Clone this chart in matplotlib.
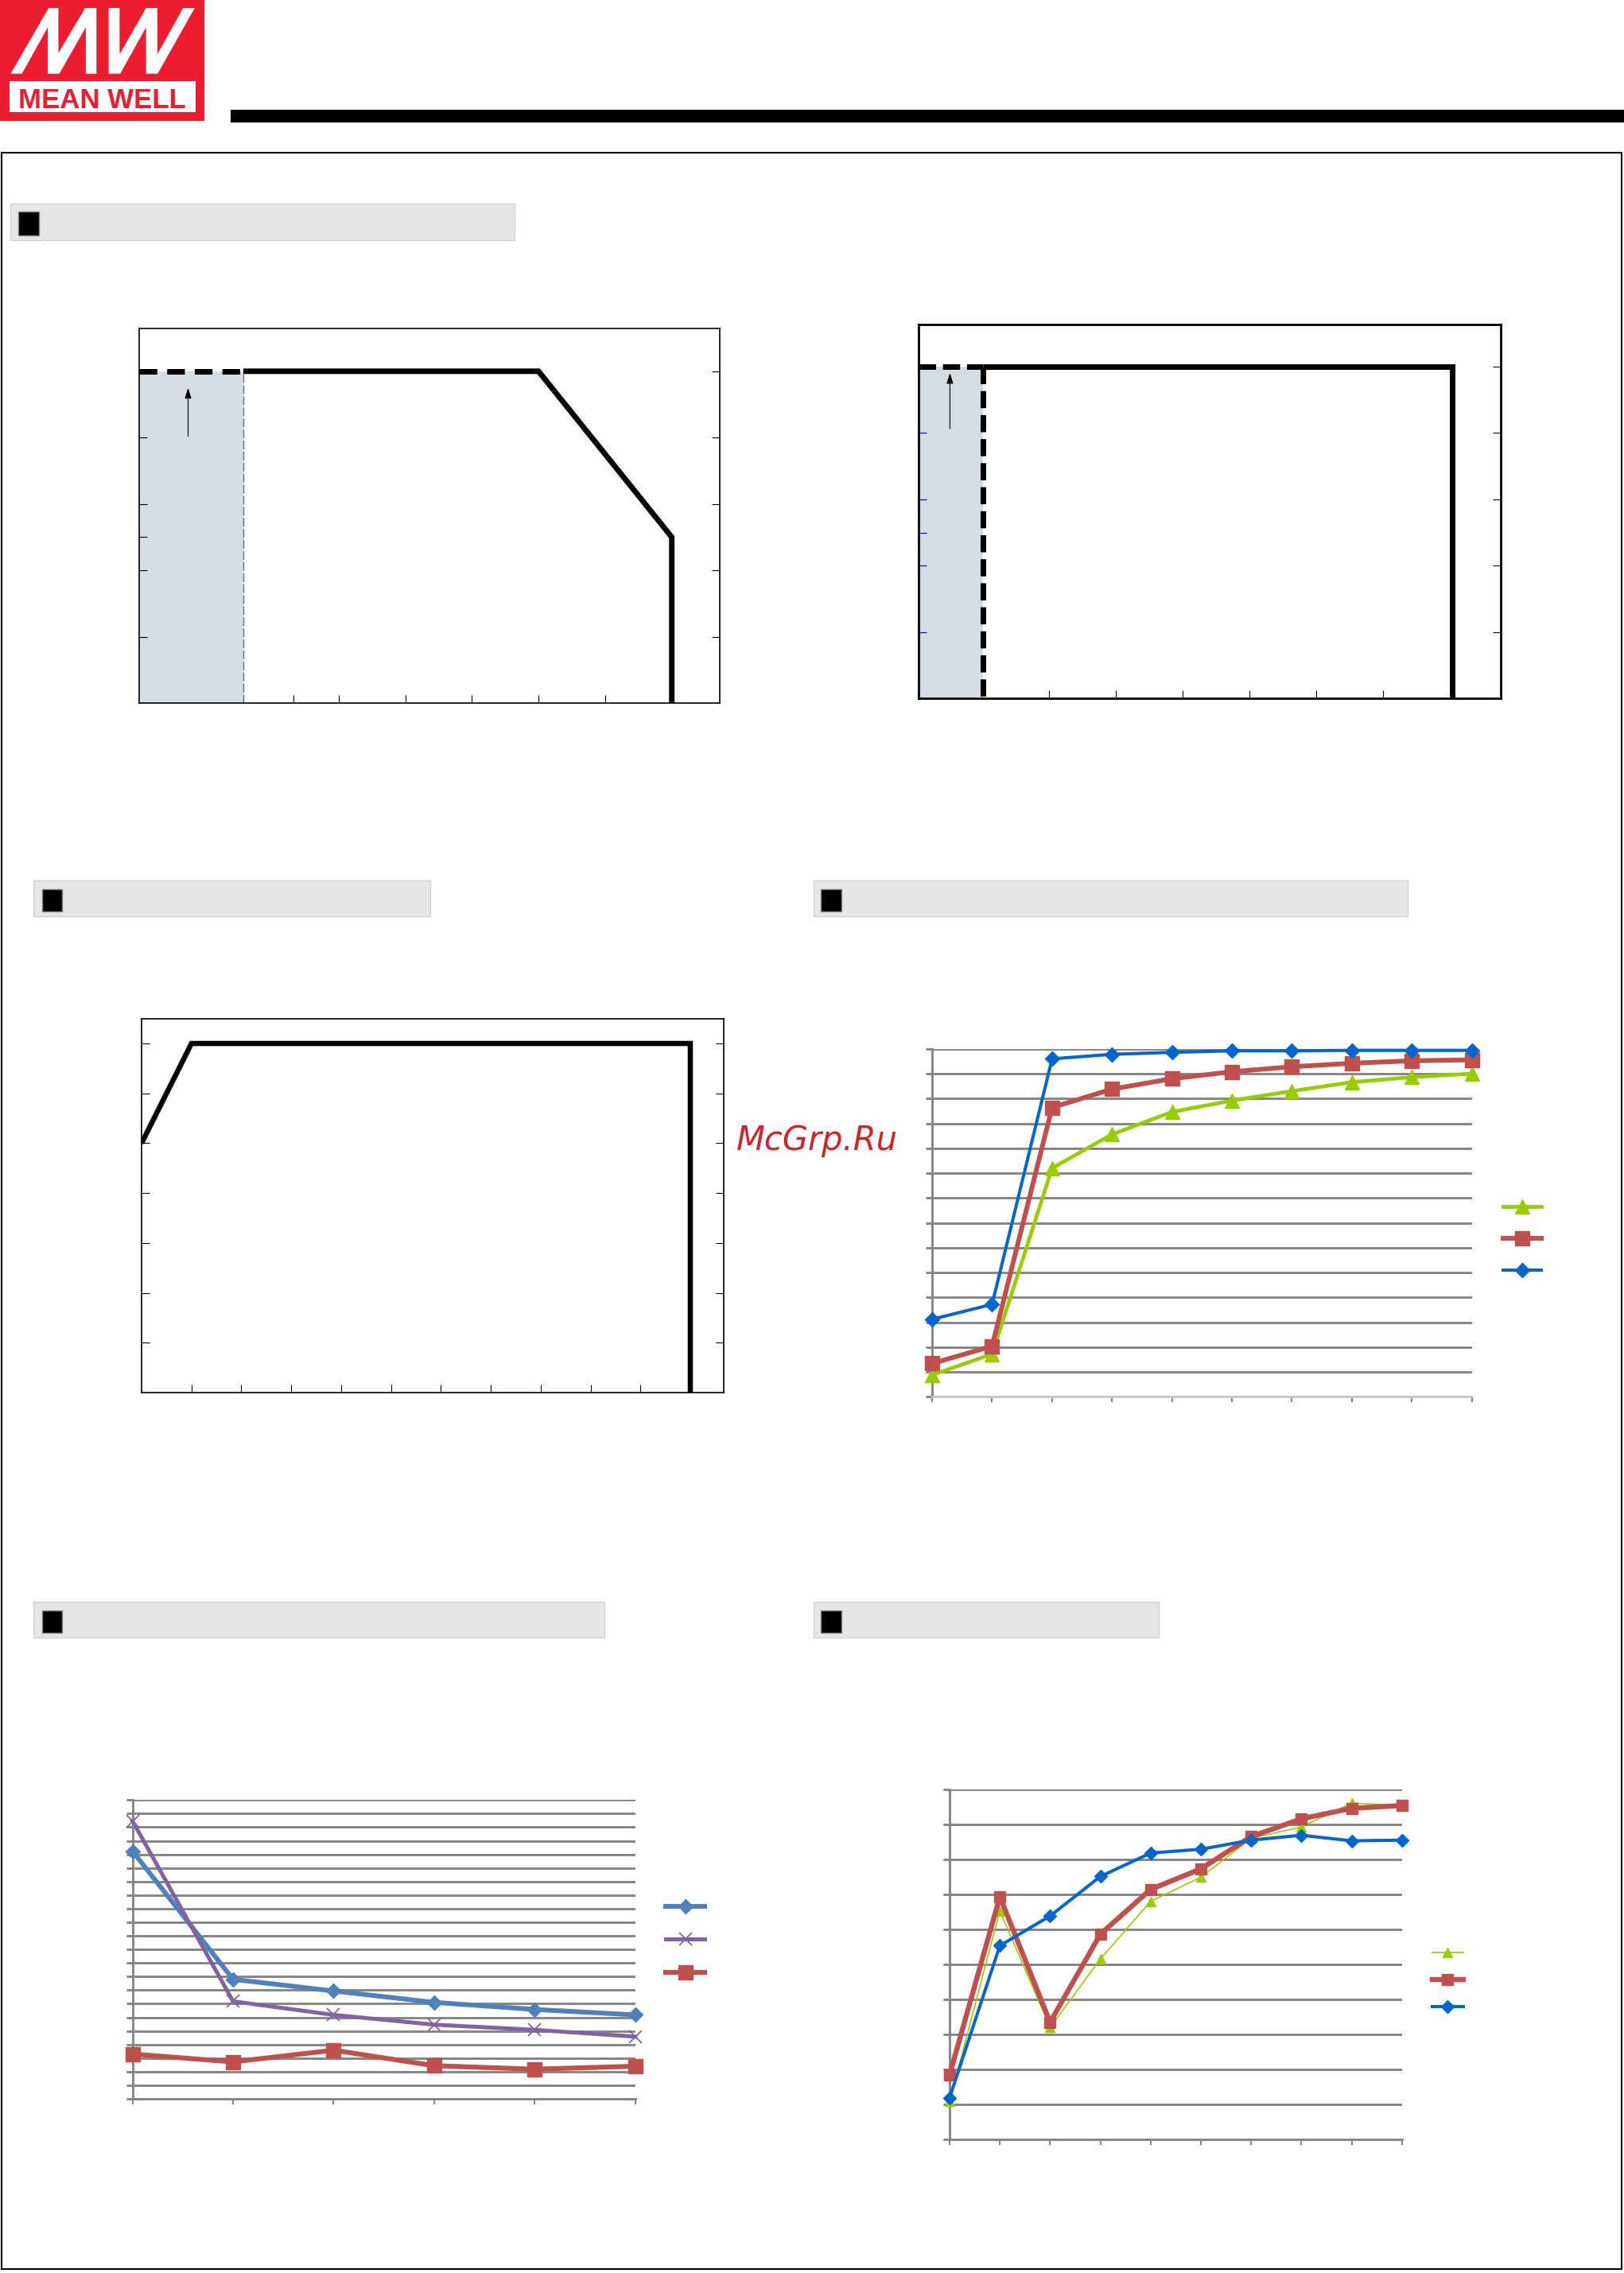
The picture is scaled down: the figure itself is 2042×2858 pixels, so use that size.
import matplotlib
matplotlib.use('Agg')
import matplotlib.pyplot as plt
from matplotlib.patches import Rectangle, Polygon

W, H = 2042, 2858

# ---- dados dos graficos ----
# grafico 1: carga x temperatura ambiente
c1_temp = [-30, -14.3, 30, 50, 50]
c1_load = [100, 100, 100, 50, 0]
c1_xticks = [-14.3, -6.8, 0, 10, 20, 30, 40]
c1_yticks_left = [20, 40, 50, 60, 80]
c1_yticks_right = [20, 40, 60, 80, 100]
c1_arrow_x = -22.6
c1_arrow_y = (80.4, 95.0)

# grafico 2: carga x tensao de entrada
c2_vin = [80.4, 90, 160.4, 160.4]
c2_load = [100, 100, 100, 0]
c2_xticks = [100, 110, 120, 130, 140, 150]
c2_yticks_left = [20, 40, 50, 60, 80]
c2_yticks_right = [20, 40, 60, 80, 100]
c2_arrow_x = 85.1
c2_arrow_y = (81.3, 98.1)

# grafico 3
c3_vin = [80, 90, 190, 190]
c3_load = [80, 100, 100, 30]
c3_xticks = [90, 100, 110, 120, 130, 140, 150, 160, 170, 180]
c3_yticks = [40, 50, 60, 70, 80, 90, 100]

# grafico 4: eficiencia x carga
c4_x = list(range(10))
c4_green = [34.4, 38.6, 76.0, 82.8, 87.3, 89.6, 91.5, 93.3, 94.3, 95.0]
c4_red = [36.7, 40.2, 88.2, 91.9, 94.0, 95.4, 96.4, 97.1, 97.6, 97.8]
c4_blue = [45.6, 48.6, 98.0, 98.9, 99.3, 99.6, 99.6, 99.7, 99.7, 99.7]

# grafico 5
c5_x = list(range(6))
c5_blue = [91.2, 44.0, 39.7, 35.5, 32.9, 30.9]
c5_purple = [102.3, 35.9, 30.9, 27.3, 25.4, 22.9]
c5_red = [16.5, 13.6, 17.9, 12.2, 10.9, 12.0]

# grafico 6
c6_x = list(range(10))
c6_green = [10.7, 65.3, 31.9, 51.5, 68.0, 74.9, 86.0, 89.3, 96.1, 95.4]
c6_red = [18.3, 69.3, 33.4, 58.6, 71.4, 77.3, 86.5, 91.6, 94.6, 95.4]
c6_blue = [11.8, 55.3, 63.8, 75.1, 81.8, 82.9, 85.5, 86.9, 85.3, 85.5]

fig = plt.figure(figsize=(W / 100, H / 100), dpi=100)


def place(x0, y0, x1, y1):
    # posiciona um eixo a partir das coordenadas em pixels da pagina
    return fig.add_axes([x0 / W, 1 - y1 / H, (x1 - x0) / W, (y1 - y0) / H])


# ---- fundo da pagina: logo, barra, moldura e cabecalhos ----
bg = fig.add_axes([0, 0, 1, 1])
bg.set_xlim(0, W)
bg.set_ylim(H, 0)
bg.axis('off')

bg.add_patch(Rectangle((0, 0), 257, 152, color='#ed1c2e', lw=0))
bg.add_patch(Rectangle((12, 102), 234, 39, color='white', lw=0))
sx, sy = 600 / 1568, 1 / 3
m_pts = [(35, 278), (72, 278), (157, 103), (157, 278), (195, 278), (282, 103), (282, 278),
         (317, 278), (317, 30), (280, 30), (192, 200), (192, 30), (160, 30)]
w_pts = [(357, 30), (393, 30), (393, 205), (480, 30), (517, 30), (517, 205), (602, 30),
         (640, 30), (518, 278), (480, 278), (480, 103), (395, 278), (357, 278)]
for pts in (m_pts, w_pts):
    bg.add_patch(Polygon([(x * sx, y * sy) for x, y in pts], closed=True, color='white', lw=0))
bg.text(128, 136, 'MEAN WELL', color='#ed1c2e', fontsize=25, fontweight='bold',
        family='Liberation Sans', ha='center', va='baseline')

bg.add_patch(Rectangle((290, 138), W - 290, 16, color='black', lw=0))
bg.add_patch(Rectangle((2, 192), 2037, 2661, fill=False, ec='black', lw=1.5))

headers = [
    ((13.4, 256.3, 647, 301.7), (23.3, 266.3, 48.6, 295.7)),
    ((42.4, 1107, 540.6, 1152.3), (52.7, 1117.5, 77.6, 1145.6)),
    ((1022.6, 1107, 1769.5, 1152.3), (1031.9, 1117.5, 1057.8, 1145.6)),
    ((42.4, 2014, 760, 2059.4), (52.7, 2024.5, 77.6, 2052.6)),
    ((1022.6, 2014, 1457.2, 2059.4), (1031.9, 2024.5, 1057.8, 2052.6)),
]
for (x0, y0, x1, y1), (q0, r0, q1, r1) in headers:
    bg.add_patch(Rectangle((x0, y0), x1 - x0, y1 - y0, fc='#e6e6e6', ec='#d2d2d2', lw=1))
    bg.add_patch(Rectangle((q0, r0), q1 - q0, r1 - r0, fc='black', ec='#808080', lw=1))


def box_axes(ax, lw):
    for s in ax.spines.values():
        s.set_linewidth(lw)
        s.set_color('black')
    ax.set_xticklabels([])
    ax.set_yticklabels([])


# ---- grafico 1 ----
ax1 = place(174.5, 413.4, 905, 884)
ax1.set_xlim(-30, 57.2)
ax1.set_ylim(0, 112.8)
ax1.fill_between(c1_temp[:2], 0, c1_load[0], color='#d4dce4', lw=0)
ax1.plot([c1_temp[1], c1_temp[1]], [0, c1_load[1]], color='#707070', lw=1, dashes=(8, 2))
ax1.plot(c1_temp[:2], c1_load[:2], color='black', lw=5, dashes=(3.2, 1.8), dash_capstyle='butt')
ax1.plot(c1_temp[1:], c1_load[1:], color='black', lw=5, solid_joinstyle='miter',
         solid_capstyle='butt')
ax1.annotate('', xy=(c1_arrow_x, c1_arrow_y[1]), xytext=(c1_arrow_x, c1_arrow_y[0]),
             arrowprops=dict(arrowstyle='-|>,head_length=0.8,head_width=0.25', color='black',
                             lw=0.8, mutation_scale=10, shrinkA=0, shrinkB=0))
ax1.set_xticks(c1_xticks)
ax1.set_yticks(c1_yticks_left)
ax1.tick_params(direction='in', length=7, width=0.8)
box_axes(ax1, 1.2)
t1 = ax1.twinx()
t1.set_ylim(ax1.get_ylim())
t1.set_yticks(c1_yticks_right)
t1.tick_params(direction='in', length=7, width=0.8, labelright=False)
for s in t1.spines.values():
    s.set_visible(False)

# ---- grafico 2 ----
ax2 = place(1155, 407.6, 1886.7, 878.4)
ax2.set_xlim(80.4, 167.6)
ax2.set_ylim(0, 112.8)
ax2.fill_between(c2_vin[:2], 0, c2_load[0], color='#d4dce4', lw=0)
ax2.plot(c2_vin[:2], c2_load[:2], color='black', lw=5, dashes=(3.1, 1.25), dash_capstyle='butt')
ax2.plot([c2_vin[1], c2_vin[1]], [c2_load[1], 0], color='black', lw=5, dashes=(3.1, 1.25),
         dash_capstyle='butt')
ax2.plot(c2_vin[1:], c2_load[1:], color='black', lw=5, solid_joinstyle='miter',
         solid_capstyle='butt')
ax2.annotate('', xy=(c2_arrow_x, c2_arrow_y[1]), xytext=(c2_arrow_x, c2_arrow_y[0]),
             arrowprops=dict(arrowstyle='-|>,head_length=0.8,head_width=0.25', color='black',
                             lw=0.8, mutation_scale=10, shrinkA=0, shrinkB=0))
ax2.set_xticks(c2_xticks)
ax2.set_yticks(c2_yticks_left)
ax2.tick_params(axis='x', direction='in', length=7, width=0.8)
ax2.tick_params(axis='y', direction='in', length=7, width=0.8, color='#0000cc')
box_axes(ax2, 2)
t2 = ax2.twinx()
t2.set_ylim(ax2.get_ylim())
t2.set_yticks(c2_yticks_right)
t2.tick_params(direction='in', length=7, width=0.8, labelright=False)
for s in t2.spines.values():
    s.set_visible(False)

# ---- grafico 3 ----
ax3 = place(178, 1281.3, 910, 1751)
ax3.set_xlim(80, 196.7)
ax3.set_ylim(30, 104.9)
ax3.plot(c3_vin, c3_load, color='black', lw=4.7, solid_joinstyle='miter', solid_capstyle='butt')
ax3.set_xticks(c3_xticks)
ax3.set_yticks(c3_yticks)
ax3.tick_params(direction='in', length=7, width=0.8, left=True, right=True)
box_axes(ax3, 1.2)


# ---- graficos de linhas estilo planilha ----
def sheet_axes(ax, xmax, ymin, ymax, step, bottom_color):
    ax.set_xlim(0, xmax)
    ax.set_ylim(ymin, ymax)
    ax.set_yticks(range(ymin, ymax + 1, step))
    ax.set_xticks(range(xmax + 1))
    ax.grid(axis='y', color='#868686', lw=2.1)
    ax.set_axisbelow(True)
    ax.spines['top'].set_visible(False)
    ax.spines['right'].set_visible(False)
    ax.spines['left'].set_color('#868686')
    ax.spines['left'].set_linewidth(2.1)
    ax.spines['bottom'].set_color(bottom_color)
    ax.spines['bottom'].set_linewidth(2.1)
    ax.tick_params(axis='y', direction='out', length=5.5, width=2.1, color='#868686',
                   labelleft=False)
    ax.tick_params(axis='x', direction='out', length=5, width=1.5, color='#868686',
                   labelbottom=False)


def sheet_legend(ax, handles, x, ytop, pitch, hlen):
    fs = 10
    ax.legend(handles, [''] * len(handles), loc='upper left',
              bbox_to_anchor=(x / W, 1 - ytop / H), bbox_transform=fig.transFigure,
              frameon=False, fontsize=fs, handlelength=hlen / (fs * 100 / 72),
              handletextpad=0, borderpad=0, borderaxespad=0,
              labelspacing=(pitch - 14) / (fs * 100 / 72))


ax4 = place(1172.1, 1318.8, 1850.6, 1756.3)
sheet_axes(ax4, 9, 30, 100, 5, '#c8c8c8')
g4, = ax4.plot(c4_x, c4_green, color='#99cc00', lw=3.4, marker='^', ms=12.5, clip_on=False, zorder=3)
r4, = ax4.plot(c4_x, c4_red, color='#c0504d', lw=4.3, marker='s', ms=12.5, clip_on=False, zorder=3)
b4, = ax4.plot(c4_x, c4_blue, color='#0066cc', lw=2.9, marker='D', ms=9.5, clip_on=False, zorder=3)
sheet_legend(ax4, [g4, r4, b4], 1890, 1511, 40.1, 48)

ax5 = place(166.6, 2263.3, 798.7, 2639)
sheet_axes(ax5, 5, 0, 110, 5, '#868686')
b5, = ax5.plot(c5_x, c5_blue, color='#4f81bd', lw=4.3, marker='D', ms=9.5, clip_on=False, zorder=3)
p5, = ax5.plot(c5_x, c5_purple, color='#8064a2', lw=3.6, marker='x', ms=12, mew=1.3,
               clip_on=False, zorder=3)
r5, = ax5.plot(c5_x, c5_red, color='#c0504d', lw=4.4, marker='s', ms=13, clip_on=False, zorder=3)
sheet_legend(ax5, [b5, p5, r5], 837, 2391, 41.3, 49)

ax6 = place(1194, 2250, 1762.8, 2689.5)
sheet_axes(ax6, 9, 0, 100, 10, '#868686')
g6, = ax6.plot(c6_x, c6_green, color='#99cc00', lw=1.2, marker='^', ms=8, clip_on=False, zorder=3)
r6, = ax6.plot(c6_x, c6_red, color='#c0504d', lw=4.6, marker='s', ms=10.5, clip_on=False, zorder=3)
b6, = ax6.plot(c6_x, c6_blue, color='#0066cc', lw=2.9, marker='D', ms=8, clip_on=False, zorder=3)
sheet_legend(ax6, [g6, r6, b6], 1800.7, 2449, 33.7, 39)

# marca d'agua
fig.text(926 / W, 1 - 1446 / H, 'McGrp.Ru', color='#d2232a', fontsize=30, fontstyle='italic',
         ha='left', va='baseline')

fig.savefig('out.png', dpi=100)
